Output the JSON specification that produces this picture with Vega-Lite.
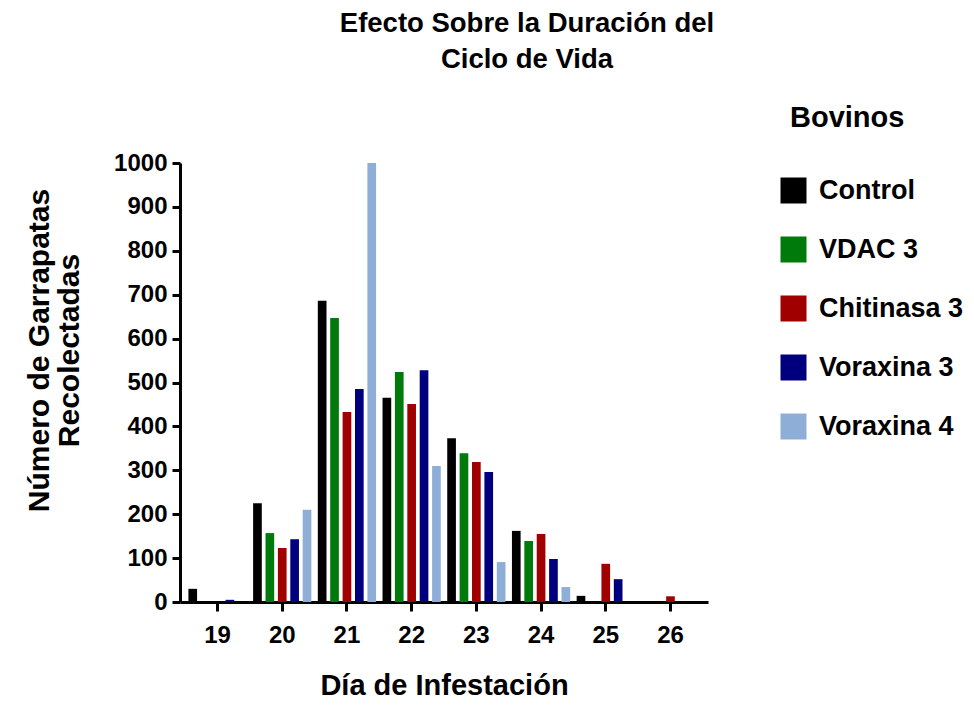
{
  "$schema": "https://vega.github.io/schema/vega-lite/v6.json",
  "autosize": {"type": "none"},
  "width": 528,
  "height": 439,
  "padding": {"left": 180, "top": 163, "right": 266, "bottom": 106},
  "background": "white",
  "title": {
    "text": ["Efecto Sobre la Duración del", "Ciclo de Vida"],
    "anchor": "middle",
    "frame": "group",
    "dx": 83,
    "offset": 31,
    "font": "Liberation Sans",
    "fontSize": 27.5,
    "fontWeight": "bold",
    "lineHeight": 36,
    "color": "black"
  },
  "data": {
    "values": [
      {"day": "19", "group": "Control", "value": 30},
      {"day": "19", "group": "Voraxina 3", "value": 5},
      {"day": "20", "group": "Control", "value": 225},
      {"day": "20", "group": "VDAC 3", "value": 157},
      {"day": "20", "group": "Chitinasa 3", "value": 123},
      {"day": "20", "group": "Voraxina 3", "value": 143},
      {"day": "20", "group": "Voraxina 4", "value": 210},
      {"day": "21", "group": "Control", "value": 686},
      {"day": "21", "group": "VDAC 3", "value": 647},
      {"day": "21", "group": "Chitinasa 3", "value": 433},
      {"day": "21", "group": "Voraxina 3", "value": 485},
      {"day": "21", "group": "Voraxina 4", "value": 1000},
      {"day": "22", "group": "Control", "value": 465},
      {"day": "22", "group": "VDAC 3", "value": 524},
      {"day": "22", "group": "Chitinasa 3", "value": 451},
      {"day": "22", "group": "Voraxina 3", "value": 528},
      {"day": "22", "group": "Voraxina 4", "value": 310},
      {"day": "23", "group": "Control", "value": 373},
      {"day": "23", "group": "VDAC 3", "value": 339},
      {"day": "23", "group": "Chitinasa 3", "value": 319},
      {"day": "23", "group": "Voraxina 3", "value": 296},
      {"day": "23", "group": "Voraxina 4", "value": 91},
      {"day": "24", "group": "Control", "value": 162},
      {"day": "24", "group": "VDAC 3", "value": 139},
      {"day": "24", "group": "Chitinasa 3", "value": 155},
      {"day": "24", "group": "Voraxina 3", "value": 98},
      {"day": "24", "group": "Voraxina 4", "value": 34},
      {"day": "25", "group": "Control", "value": 14},
      {"day": "25", "group": "Chitinasa 3", "value": 87},
      {"day": "25", "group": "Voraxina 3", "value": 52},
      {"day": "26", "group": "Chitinasa 3", "value": 13}
    ]
  },
  "mark": {"type": "bar"},
  "encoding": {
    "x": {
      "field": "day",
      "type": "nominal",
      "scale": {"domain": ["19","20","21","22","23","24","25","26"], "paddingInner": 0.1, "paddingOuter": 0.13},
      "axis": {
        "title": "Día de Infestación",
        "titleFont": "Liberation Sans",
        "titleFontSize": 29,
        "titleFontWeight": "bold",
        "titleColor": "black",
        "titlePadding": 24,
        "labelAngle": 0,
        "labelFont": "Liberation Sans",
        "labelFontSize": 24,
        "labelFontWeight": "bold",
        "labelColor": "black",
        "labelPadding": 12,
        "domainColor": "black",
        "domainWidth": 3,
        "tickColor": "black",
        "tickWidth": 3,
        "tickSize": 9,
        "grid": false
      }
    },
    "xOffset": {
      "field": "group",
      "type": "nominal",
      "scale": {"domain": ["Control","VDAC 3","Chitinasa 3","Voraxina 3","Voraxina 4"], "paddingInner": 0.3, "paddingOuter": 0}
    },
    "y": {
      "field": "value",
      "type": "quantitative",
      "scale": {"domain": [0, 1000], "nice": false},
      "axis": {
        "title": ["Número de Garrapatas", "Recolectadas"],
        "titleFont": "Liberation Sans",
        "titleFontSize": 30,
        "titleFontWeight": "bold",
        "titleColor": "black",
        "titleLineHeight": 30,
        "titlePadding": 29,
        "titleY": 187,
        "values": [0,100,200,300,400,500,600,700,800,900,1000],
        "format": "d",
        "labelFont": "Liberation Sans",
        "labelFontSize": 24,
        "labelFontWeight": "bold",
        "labelColor": "black",
        "labelPadding": 5,
        "domainColor": "black",
        "domainWidth": 3,
        "tickColor": "black",
        "tickWidth": 3,
        "tickSize": 8,
        "grid": false
      }
    },
    "color": {
      "field": "group",
      "type": "nominal",
      "scale": {
        "domain": ["Control","VDAC 3","Chitinasa 3","Voraxina 3","Voraxina 4"],
        "range": ["#000000","#007a0a","#a00000","#00007e","#8eaed8"]
      },
      "legend": {
        "title": "Bovinos",
        "orient": "none",
        "legendX": 610,
        "legendY": -59,
        "titleFont": "Liberation Sans",
        "titleFontSize": 29,
        "titleFontWeight": "bold",
        "titleColor": "black",
        "titlePadding": 44,
        "titleAnchor": "start",
        "titleAlign": "left",
        "labelFont": "Liberation Sans",
        "labelFontSize": 27,
        "labelFontWeight": "bold",
        "labelColor": "black",
        "labelOffset": 12,
        "symbolOffset": -10,
        "symbolType": "square",
        "symbolSize": 676,
        "symbolStrokeWidth": 0,
        "rowPadding": 31
      }
    }
  },
  "config": {
    "view": {"stroke": null},
    "axis": {"labelOverlap": false}
  }
}
